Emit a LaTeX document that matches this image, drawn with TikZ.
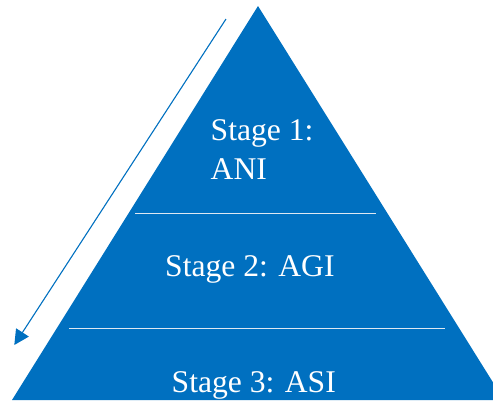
\documentclass[tikz,border=0pt]{standalone}
\usepackage{fontspec}
\setmainfont{Liberation Serif}
\usetikzlibrary{arrows.meta}
\definecolor{pyrblue}{RGB}{0,112,192}
\definecolor{seplight}{RGB}{222,232,242}

\begin{document}
\begin{tikzpicture}[x=1pt,y=-1pt,
        layer fill/.style={fill=pyrblue},
        sep line/.style={draw=seplight, line width=1.4pt},
        stage text/.style={text=white, inner sep=0pt, anchor=base west,
          font=\fontsize{31.6}{39}\selectfont},
        flow arrow/.style={draw=pyrblue, line width=1.1pt, -{Triangle[length=15pt,width=15pt]}}]
        \useasboundingbox (0,0) rectangle (493,400);
        \begin{scope}
          \clip (0,0) rectangle (493,400);
          % pyramid
          \fill[layer fill] (258,6) -- (504,400) -- (12,400) -- cycle;
        \end{scope}

        % layer borders
        \draw[sep line] (135,213.5) -- (376,213.5);
        \draw[sep line] (69,328.5) -- (445,328.5);

        \node[stage text] (ani1) at (210.5,140) {Stage 1:};
        \node[stage text] (ani2) at (210.5,179) {ANI};
        \node[stage text] (agi)  at (165,276)   {Stage 2: AGI};
        \node[stage text] (asi)  at (171.5,392.3) {Stage 3: ASI};

        % direction arrow
        \coordinate (arrow top) at (226,19);
        \coordinate (arrow tip) at (14.3,345);
        \draw[flow arrow] (arrow top) -- (arrow tip);
      \end{tikzpicture}
\end{document}
